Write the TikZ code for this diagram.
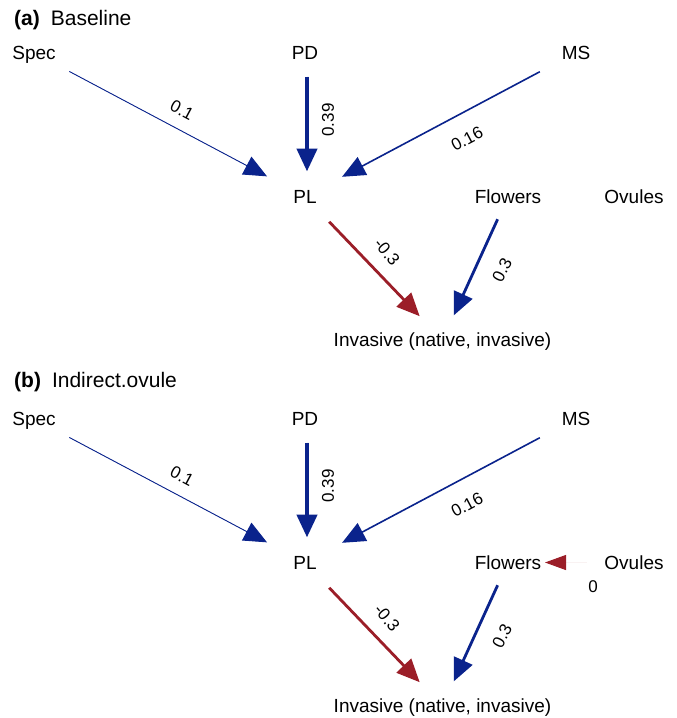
\documentclass[tikz,border=0pt]{standalone}
\usepackage{fontspec}
\setmainfont{Liberation Sans}
\usetikzlibrary{arrows.meta}
\definecolor{pathblue}{RGB}{10,35,140}
\definecolor{pathred}{RGB}{155,30,40}
\tikzset{
  var/.style={inner sep=0pt, font=\fontsize{19}{22}\selectfont, text height=13.6pt, text depth=0pt},
  coef/.style={inner sep=0pt, font=\fontsize{17}{20}\selectfont},
  ttl/.style={anchor=base west, inner sep=0pt, font=\fontsize{21}{24}\selectfont},
  arr/.style={-{Triangle[length=23pt,width=20pt]}},
  bluearr/.style={arr, draw=pathblue, fill=pathblue},
  redarr/.style={arr, draw=pathred, fill=pathred},
}
\begin{document}
\begin{tikzpicture}[x=1pt,y=-1pt]
\useasboundingbox (0,0) rectangle (677,718);
\node[ttl] (ta) at (14,25) {\textbf{(a)}\hspace{11pt}Baseline};
\node[ttl] (tb) at (14,387) {\textbf{(b)}\hspace{11pt}Indirect.ovule};
\foreach \p/\dy in {a/0,b/366}{
  \node[var] (\p spec) at (34,52.7+\dy) {Spec};
  \node[var] (\p pd) at (305,52.7+\dy) {PD};
  \node[var] (\p ms) at (576,52.5+\dy) {MS};
  \node[var] (\p pl) at (305,196.5+\dy) {PL};
  \node[var] (\p fl) at (508,196.5+\dy) {Flowers};
  \node[var] (\p ov) at (634,196.5+\dy) {Ovules};
  \node[var] (\p inv) at (442.5,340+\dy) {Invasive (native, invasive)};
  \draw[bluearr, line width=0.9pt, shorten <=40pt, shorten >=43pt] (\p spec.center) -- (\p pl.center);
  \draw[bluearr, line width=4.5pt, shorten <=24pt, shorten >=25pt] ([xshift=2pt]\p pd.center) -- ([xshift=2pt]\p pl.center);
  \draw[bluearr, line width=1.6pt, shorten <=41pt, shorten >=42pt] (\p ms.center) -- (\p pl.center);
  \draw[redarr, line width=2.8pt, shorten <=35pt, shorten >=33pt] (\p pl.center) -- (\p inv.center);
  \draw[bluearr, line width=2.8pt, shorten <=25pt, shorten >=27pt] (\p fl.center) -- (\p inv.center);
  \node[coef, rotate=-28] (\p c1) at (182,110+\dy) {0.1};
  \node[coef, rotate=90] (\p c2) at (328,120+\dy) {0.39};
  \node[coef, rotate=28] (\p c3) at (467,139+\dy) {0.16};
  \node[coef, rotate=-50] (\p c4) at (387,252+\dy) {-0.3};
  \node[coef, rotate=63] (\p c5) at (502,270+\dy) {0.3};
}
\draw[-{Triangle[length=21pt,width=15pt,color=pathred]}, draw=pathred!6, line width=1pt, shorten <=47pt, shorten >=37pt] (bov.center) -- (bfl.center);
\node[coef] (bc6) at (593,587) {0};
\end{tikzpicture}
\end{document}
